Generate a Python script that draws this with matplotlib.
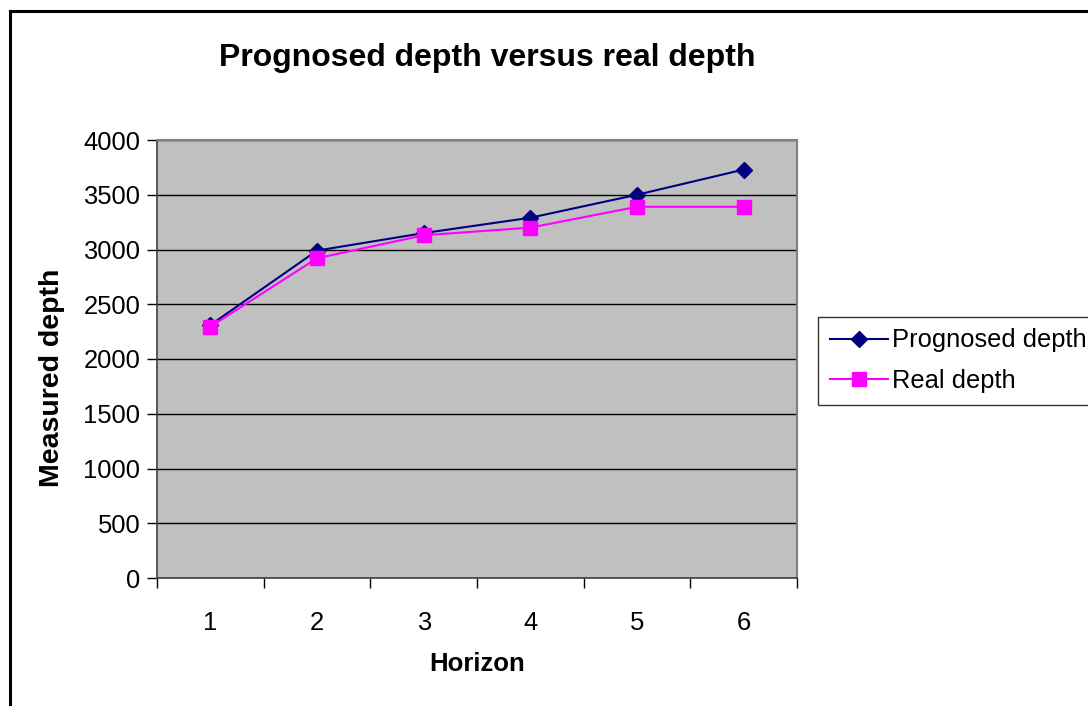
import matplotlib
matplotlib.use("Agg")
import matplotlib.pyplot as plt
from matplotlib.patches import Rectangle

plt.rcParams['font.family'] = ['Liberation Sans', 'DejaVu Sans']

horizons = [1, 2, 3, 4, 5, 6]
prognosed = [2310, 2990, 3150, 3290, 3500, 3730]
real = [2295, 2920, 3130, 3200, 3390, 3390]

fig = plt.figure(figsize=(10.88, 7.06), dpi=100)
ax = fig.add_axes([157 / 1088, 1 - 578 / 706, 640 / 1088, 438 / 706])

# outer chart frame (left and top edges visible)
fig.patches.append(Rectangle((10 / 1088, -0.1), 1.2, (706 - 11) / 706 + 0.1,
                             transform=fig.transFigure, fill=False,
                             edgecolor='black', linewidth=2.2))

ax.set_facecolor('#c0c0c0')
ax.plot(horizons, prognosed, color='#000080', marker='D', markersize=8,
        linewidth=1.5, label='Prognosed depth', zorder=3)
ax.plot(horizons, real, color='#ff00ff', marker='s', markersize=10,
        linewidth=1.5, label='Real depth', zorder=4)

ax.set_xlim(0.5, 6.5)
ax.set_ylim(0, 4000)
ax.set_yticks(range(0, 4001, 500))
ax.set_xticks(horizons)
ax.set_xticks([0.5 + i for i in range(7)], minor=True)
ax.yaxis.grid(True, color='black', linewidth=1)
ax.set_axisbelow(True)

ax.tick_params(axis='x', which='major', length=0, labelsize=18.4, pad=24)
ax.tick_params(axis='x', which='minor', length=7, width=1, direction='out')
ax.tick_params(axis='y', length=7, width=1, labelsize=18.4, pad=5)

for side in ['top', 'right']:
    ax.spines[side].set_color('#808080')
    ax.spines[side].set_linewidth(1.5)
for side in ['left', 'bottom']:
    ax.spines[side].set_color('#404040')
    ax.spines[side].set_linewidth(1.2)

ax.set_xlabel('Horizon', fontsize=18.5, fontweight='bold')
ax.set_ylabel('Measured depth', fontsize=20.5, fontweight='bold')
ax.xaxis.set_label_coords((477 - 157) / 640, -(652 - 578) / 438)
ax.yaxis.set_label_coords((65 - 157) / 640, 0.5 - (378 - 359) / 438)
fig.text(487 / 1088, 1 - 58 / 706, 'Prognosed depth versus real depth',
         ha='center', va='center', fontsize=23, fontweight='bold')

leg = fig.legend(loc='upper left', bbox_to_anchor=(818 / 1088, 1 - 317 / 706),
                 fontsize=18.4, frameon=True, fancybox=False, handlelength=2.3,
                 handletextpad=0.15, borderpad=0.45, labelspacing=0.65,
                 borderaxespad=0)
leg.get_frame().set_edgecolor('black')
leg.get_frame().set_linewidth(1)

fig.savefig('out.png', dpi=100)
